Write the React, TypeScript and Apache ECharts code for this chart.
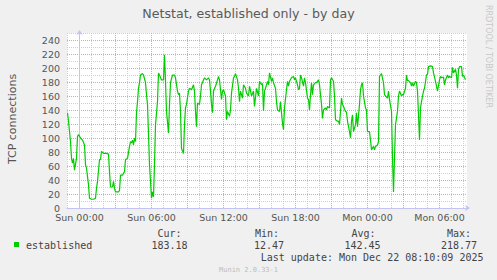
import React, { useEffect, useRef } from "react";
import * as echarts from "echarts";

const chartTitle = "Netstat, established only - by day";
const yAxisTitle = "TCP connections";
const sideNote = "RRDTOOL / TOBI OETIKER";
const xTickLabels = ["Sun 00:00", "Sun 06:00", "Sun 12:00", "Sun 18:00", "Mon 00:00", "Mon 06:00"];
const seriesName = "established";
const statHeads = ["Cur:", "Min:", "Avg:", "Max:"];
const statValues = ["183.18", "12.47", "142.45", "218.77"];
const lastUpdate = "Last update: Mon Dec 22 08:10:09 2025";
const footer = "Munin 2.0.33-1";

// minutes relative to Sun 00:00
const minutes = [
  -60, -55, -45, -40, -35, -30, -25, -15, -10, -5, 5, 15, 25, 30, 35, 45, 50, 60, 70, 80, 85, 90, 100, 105, 110, 120,
  135, 145, 150, 155, 165, 170, 175, 180, 195, 200, 205, 215, 225, 230, 240, 250, 255, 260, 265, 270, 275, 280, 285,
  290, 295, 300, 305, 315, 320, 330, 335, 340, 345, 350, 360, 365, 370, 375, 380, 390, 395, 400, 410, 420, 425,
  430, 435, 445, 450, 455, 465, 475, 480, 490, 495, 500, 505, 510, 520, 525, 530, 535, 545, 550, 560, 570, 575, 580,
  585, 590, 600, 605, 610, 620, 625, 635, 645, 650, 655, 660, 665, 670, 680, 690, 695, 700, 710, 715, 720, 730, 735,
  740, 750, 755, 760, 770, 775, 780, 790, 795, 800, 805, 815, 820, 830, 835, 845, 850, 860, 870, 875, 885, 895, 900,
  910, 915, 920, 925, 930, 940, 945, 950,
  960, 965, 970, 980, 985, 990, 1000, 1005, 1010, 1015, 1020, 1025, 1035, 1040, 1045, 1050, 1060, 1070, 1075, 1080,
  1090, 1095, 1100, 1105, 1110, 1120, 1125, 1130, 1140, 1145, 1150, 1155, 1160, 1165, 1170, 1180, 1185, 1195, 1200,
  1210, 1215, 1220, 1230, 1235, 1240, 1250, 1255, 1260, 1270, 1275, 1280, 1290, 1295, 1300, 1310, 1315, 1320, 1330,
  1335, 1340, 1350, 1355, 1360, 1365, 1370, 1380, 1385, 1390, 1400, 1405, 1410,
  1415, 1420, 1430, 1435, 1440, 1450, 1455, 1460, 1470, 1475, 1480, 1490, 1495, 1500, 1505, 1510, 1520, 1525, 1530,
  1540, 1545, 1550, 1560, 1565, 1570, 1575, 1580, 1590, 1595, 1600, 1610, 1615, 1620, 1630, 1635, 1640, 1645, 1655,
  1660, 1665, 1670, 1680, 1685, 1690, 1695, 1700, 1705, 1710, 1720, 1725, 1735, 1740, 1745, 1755, 1765, 1770, 1780,
  1785, 1790, 1800, 1805, 1810, 1820, 1825, 1830, 1840, 1845, 1850, 1860, 1865, 1870, 1880, 1885, 1890, 1895, 1900,
  1910, 1915, 1920, 1930,
];

const connections = [
  136, 124, 95, 71, 64, 71, 54, 71, 102, 105, 100, 97, 90, 62, 57, 33, 14, 12.5, 12.5, 14, 28, 38, 69, 69, 81, 78,
  78, 77, 52, 30, 30, 38, 28, 23, 23, 25, 47, 47, 52, 69, 71, 88, 95, 93, 97, 90, 100, 95, 136,
  152, 171, 179, 190, 192, 190, 179, 162, 148, 105, 62, 14, 23, 16, 62, 119, 152, 193, 190, 183, 183, 218.8,
  181, 138, 107, 148, 179, 190, 190, 186, 167, 162, 164, 138, 85, 78, 119, 143, 148, 167, 171, 169, 176, 167, 138,
  116, 150, 148, 160, 176, 183, 186, 183, 186, 183, 167, 148, 136, 167, 174, 183, 188, 183, 155, 167, 169, 160, 126,
  138, 131, 140, 164, 186, 188, 192, 183, 171, 152, 167, 157, 176, 171, 164, 160, 174, 160, 167, 145, 171, 160, 181,
  176, 178, 139, 167, 171, 181, 176, 193,
  181, 186, 179, 171, 152, 140, 138, 152, 136, 121, 112, 143, 169, 181, 174, 181, 186, 188, 183, 186,
  176, 169, 171, 190, 186, 174, 186, 179, 157, 155, 140, 162, 179, 162, 176, 179, 179, 183, 176,
  148, 128, 140, 143, 140, 145, 143, 183, 186, 181, 160, 126, 124, 124, 119, 157, 148, 145, 138,
  137, 124, 109, 100, 124, 133, 109, 119, 136, 116, 148, 169, 176,
  179, 160, 143, 140, 109, 109, 97, 83, 88, 83, 88, 90, 95, 188, 190, 192, 179, 162, 160,
  157, 167, 155, 138, 71, 23, 71, 119, 138, 160, 167, 160, 162, 162, 171, 190, 182, 182, 179,
  174, 179, 174, 181, 179, 167, 133, 97, 143, 152, 167, 171, 190, 191, 202, 203, 202, 193, 181,
  174, 167, 183, 188, 186, 187, 176, 183, 190, 186, 188, 186, 201, 193, 198, 190, 171, 198, 202,
  202, 188, 190, 183.2,
];

export default function App() {
  const ref = useRef<HTMLDivElement>(null);

  useEffect(() => {
    if (!ref.current) return;
    const chart = echarts.init(ref.current, undefined, { renderer: "svg" });

    const gray = "#cfcfcf";
    const red = "#e6a0a0";
    const axisColor = "#c4c4f4";
    const textColor = "#555555";
    const sans = "DejaVu Sans";
    const mono = "DejaVu Sans Mono";
    const hiddenAxis = (gridIndex: number) => ({ gridIndex, type: "value", show: false, min: 0, max: 1 });
    const lineOnly = (gridIndex: number, min: number, max: number, interval: number, color: string, z: number) => ({
      gridIndex,
      type: "value",
      min,
      max,
      interval,
      z,
      axisLine: { show: false },
      axisTick: { show: false },
      axisLabel: { show: false },
      splitLine: { show: true, lineStyle: { color, width: 1, type: [1, 1] } },
    });

    const graphics: any[] = [
      {
        type: "text",
        x: 248.5,
        y: 13,
        style: { text: chartTitle, fill: "#5a5a5a", fontFamily: sans, fontSize: 12.6, textAlign: "center", textVerticalAlign: "middle" },
      },
      {
        type: "text",
        x: 12,
        y: 119,
        rotation: Math.PI / 2,
        style: { text: yAxisTitle, fill: textColor, fontFamily: sans, fontSize: 11, textAlign: "center", textVerticalAlign: "middle" },
      },
      {
        type: "text",
        x: 488.5,
        y: 56.5,
        rotation: -Math.PI / 2,
        style: { text: sideNote, fill: "#c8c8c8", fontFamily: sans, fontSize: 8, textAlign: "center", textVerticalAlign: "middle" },
      },
      { type: "rect", shape: { x: 14, y: 242, width: 5, height: 5 }, style: { fill: "#00cc00" } },
      {
        type: "text",
        x: 26,
        y: 245,
        style: { text: seriesName, fill: "#444", fontFamily: mono, fontSize: 10, textVerticalAlign: "middle" },
      },
      {
        type: "text",
        x: 260.7,
        y: 257.5,
        style: { text: lastUpdate, fill: "#444", fontFamily: mono, fontSize: 10, textVerticalAlign: "middle" },
      },
      {
        type: "text",
        x: 248.5,
        y: 269.5,
        style: { text: footer, fill: "#bdbdbd", fontFamily: mono, fontSize: 7, textAlign: "center", textVerticalAlign: "middle" },
      },
    ];
    const headX = [157.5, 255, 351.5, 447];
    const valX = [151.5, 254, 344.5, 441];
    statHeads.forEach((h, i) => {
      graphics.push({
        type: "text",
        x: headX[i],
        y: 233.5,
        style: { text: h, fill: "#444", fontFamily: mono, fontSize: 10, textVerticalAlign: "middle" },
      });
      graphics.push({
        type: "text",
        x: valX[i],
        y: 245,
        style: { text: statValues[i], fill: "#444", fontFamily: mono, fontSize: 10, textVerticalAlign: "middle" },
      });
    });

    chart.setOption({
      animation: false,
      backgroundColor: "#f0f0f0",
      grid: [
        { left: 67, top: 33, width: 400, height: 175, show: true, backgroundColor: "#ffffff", borderWidth: 0 },
        { left: 67, top: 33, width: 400, height: 168 },
        { left: 67, top: 40, width: 400, height: 168 },
        { left: 67.5, top: 33, width: 396, height: 175 },
        { left: 91.5, top: 33, width: 360, height: 175 },
        { left: 79.5, top: 33, width: 360, height: 175 },
      ],
      xAxis: [
        {
          gridIndex: 0,
          type: "value",
          min: -62.5,
          max: 1937.5,
          z: 4,
          axisLine: {
            show: true,
            lineStyle: { color: axisColor, width: 1 },
            symbol: ["none", "arrow"],
            symbolSize: [5, 5],
            symbolOffset: [0, 3],
          },
          axisTick: { show: false },
          axisLabel: { show: false },
          splitLine: { show: false },
        },
        hiddenAxis(1),
        hiddenAxis(2),
        lineOnly(3, -60, 1920, 180, gray, 1),
        lineOnly(4, 60, 1860, 180, gray, 1),
        {
          ...lineOnly(5, 0, 1800, 180, red, 2),
          axisLabel: {
            show: true,
            margin: 5,
            lineHeight: 8,
            color: textColor,
            fontFamily: sans,
            fontSize: 9.5,
            formatter: (v: number) => (v % 360 === 0 ? xTickLabels[v / 360] ?? "" : ""),
          },
        },
      ],
      yAxis: [
        {
          gridIndex: 0,
          type: "value",
          min: 0,
          max: 250,
          z: 4,
          axisLine: {
            show: true,
            lineStyle: { color: axisColor, width: 1 },
            symbol: ["none", "arrow"],
            symbolSize: [5, 5],
            symbolOffset: [0, 3],
          },
          axisTick: { show: false },
          axisLabel: { show: false },
          splitLine: { show: false },
        },
        lineOnly(1, 10, 250, 20, gray, 1),
        {
          ...lineOnly(2, 0, 240, 20, red, 2),
          axisLabel: { show: true, margin: 7, lineHeight: 8, color: textColor, fontFamily: sans, fontSize: 9.5 },
        },
        hiddenAxis(3),
        hiddenAxis(4),
        hiddenAxis(5),
      ],
      series: [
        {
          name: seriesName,
          type: "line",
          xAxisIndex: 0,
          yAxisIndex: 0,
          z: 5,
          showSymbol: false,
          symbol: "none",
          lineStyle: { color: "#00cc00", width: 1.2 },
          data: minutes.map((m, i) => [m, connections[i]]),
        },
      ],
      graphic: graphics,
    });

    return () => chart.dispose();
  }, []);

  return (
    <div
      ref={ref}
      style={{ position: "fixed", left: 0, top: 0, width: 497, height: 280 }}
    />
  );
}
